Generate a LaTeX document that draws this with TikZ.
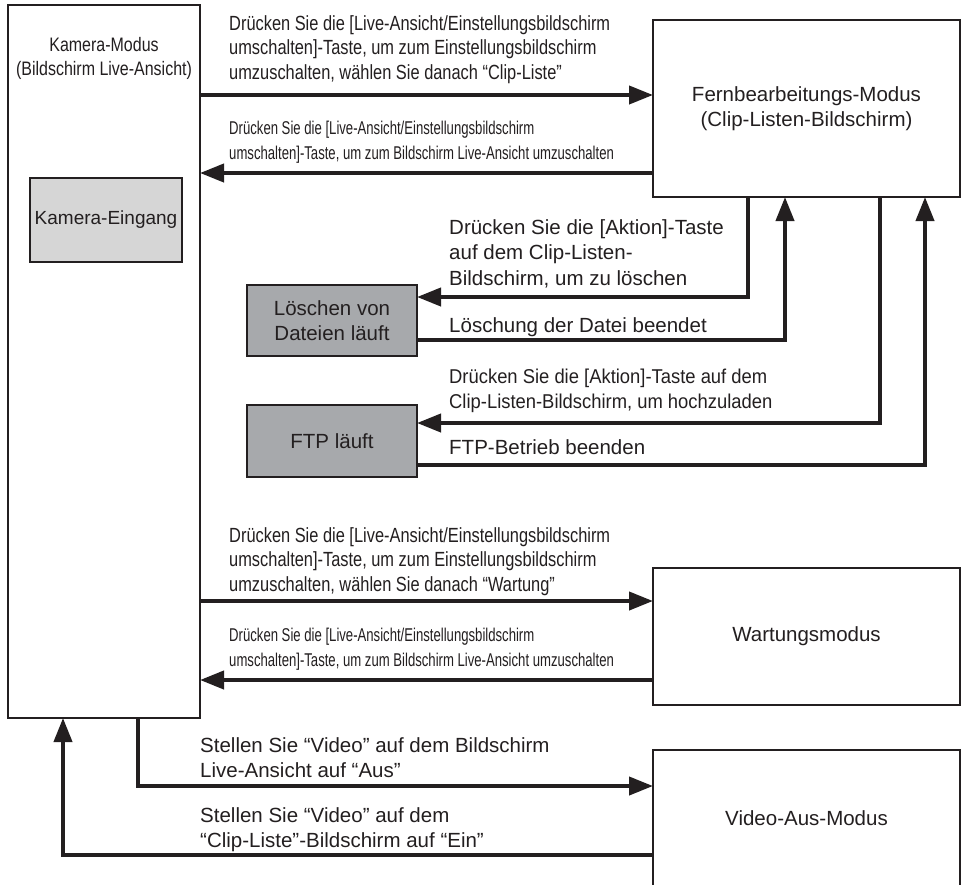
\documentclass[tikz,border=0pt]{standalone}
\usepackage{fontspec}
\setmainfont{Liberation Sans}
\newfontfamily\fN{Liberation Sans}
\newfontfamily\fT[FakeStretch=0.8]{Liberation Sans}
\newfontfamily\fC[FakeStretch=0.71]{Liberation Sans}
\newfontfamily\fM[FakeStretch=0.92]{Liberation Sans}
\newfontfamily\fK[FakeStretch=0.82]{Liberation Sans}
\usetikzlibrary{arrows.meta}
\definecolor{lgray}{HTML}{D6D6D6}
\definecolor{dgray}{HTML}{A7A9AC}
\definecolor{ink}{HTML}{231F20}
\begin{document}
\begin{tikzpicture}[x=1pt,y=-1pt,
  box/.style={draw=ink, line width=2pt, inner sep=0pt, outer sep=0pt, align=center, text=ink,
    font=\fN\fontsize{20.5}{25}\selectfont},
  arr/.style={draw=ink, line width=4pt, line join=miter, -{Triangle[length=24pt,width=18pt]}},
  lbltop/.style={anchor=north west, inner sep=0pt, align=left, text=ink, font=\fT\fontsize{20.5}{24.5}\selectfont},
  lblcond/.style={anchor=north west, inner sep=0pt, align=left, text=ink, font=\fC\fontsize{18.5}{24.5}\selectfont},
  lblmid/.style={anchor=north west, inner sep=0pt, align=left, text=ink, font=\fN\fontsize{20.5}{25.5}\selectfont},
  lblmidn/.style={anchor=north west, inner sep=0pt, align=left, text=ink, font=\fM\fontsize{20}{24.5}\selectfont},
]
\useasboundingbox (0,0) rectangle (965,884);
\clip (0,0) rectangle (965,884);
\fill[white] (0,0) rectangle (965,884);

% boxes
\node[box, line width=2.5pt, minimum width=192pt, minimum height=713pt] (kam) at (104,361.5) {};
\node[inner sep=0pt, align=center, text=ink, font=\fK\fontsize{19.5}{24}\selectfont] (kamlabel) at (104,58) {Kamera-Modus\\(Bildschirm Live-Ansicht)};
\node[box, fill=lgray, minimum width=152pt, minimum height=84pt, font=\fN\fontsize{19}{24}\selectfont] (ein) at (106,220) {Kamera-Eingang};
\node[box, minimum width=307pt, minimum height=177pt] (fern) at (806.5,108.5) {Fernbearbeitungs-Modus\\(Clip-Listen-Bildschirm)};
\node[box, fill=dgray, minimum width=170pt, minimum height=71pt] (loe) at (332,320.5) {Löschen von\\Dateien läuft};
\node[box, fill=dgray, minimum width=170pt, minimum height=72pt] (ftp) at (332,441) {FTP läuft};
\node[box, minimum width=307pt, minimum height=137pt] (wart) at (806.5,636.5) {Wartungsmodus};
\node[box, minimum width=307pt, minimum height=137pt] (vid) at (806.5,818.5) {Video-Aus-Modus};

% helper coordinates
\coordinate (h1) at (0,95);
\coordinate (h2) at (0,173);
\coordinate (h3) at (0,601);
\coordinate (h4) at (0,680);
\coordinate (v1) at (748,297);
\coordinate (v2) at (785,340);
\coordinate (v3) at (880,423);
\coordinate (v4) at (925,465);
\coordinate (v5) at (138,786);
\coordinate (v6) at (63,855);

% connectors
\draw[arr] (kam.east |- h1) -- (fern.west |- h1);
\draw[arr] (fern.west |- h2) -- (kam.east |- h2);
\draw[arr] (fern.south -| v1) |- (loe.east |- v1);
\draw[arr] (loe.east |- v2) -| (fern.south -| v2);
\draw[arr] (fern.south -| v3) |- (ftp.east |- v3);
\draw[arr] (ftp.east |- v4) -| (fern.south -| v4);
\draw[arr] (kam.east |- h3) -- (wart.west |- h3);
\draw[arr] (wart.west |- h4) -- (kam.east |- h4);
\draw[arr] (kam.south -| v5) |- (vid.west |- v5);
\draw[arr] (vid.west |- v6) -| (kam.south -| v6);

% labels
\node[lbltop] (l1) at (229,15) {Drücken Sie die [Live-Ansicht/Einstellungsbildschirm\\umschalten]-Taste, um zum Einstellungsbildschirm\\umzuschalten, wählen Sie danach “Clip-Liste”};
\node[lblcond] (l2) at (229,121) {Drücken Sie die [Live-Ansicht/Einstellungsbildschirm\\umschalten]-Taste, um zum Bildschirm Live-Ansicht umzuschalten};
\node[lblmid] (l3) at (449,219) {Drücken Sie die [Aktion]-Taste\\auf dem Clip-Listen-\\Bildschirm, um zu löschen};
\node[lblmid] (l4) at (449,317) {Löschung der Datei beendet};
\node[lblmidn] (l5) at (449,369) {Drücken Sie die [Aktion]-Taste auf dem\\Clip-Listen-Bildschirm, um hochzuladen};
\node[lblmid] (l6) at (449,439) {FTP-Betrieb beenden};
\node[lbltop] (l7) at (229,527) {Drücken Sie die [Live-Ansicht/Einstellungsbildschirm\\umschalten]-Taste, um zum Einstellungsbildschirm\\umzuschalten, wählen Sie danach “Wartung”};
\node[lblcond] (l8) at (229,628) {Drücken Sie die [Live-Ansicht/Einstellungsbildschirm\\umschalten]-Taste, um zum Bildschirm Live-Ansicht umzuschalten};
\node[lblmid] (l9) at (200,737) {Stellen Sie “Video” auf dem Bildschirm\\Live-Ansicht auf “Aus”};
\node[lblmid] (l10) at (200,807) {Stellen Sie “Video” auf dem\\“Clip-Liste”-Bildschirm auf “Ein”};
\end{tikzpicture}
\end{document}
